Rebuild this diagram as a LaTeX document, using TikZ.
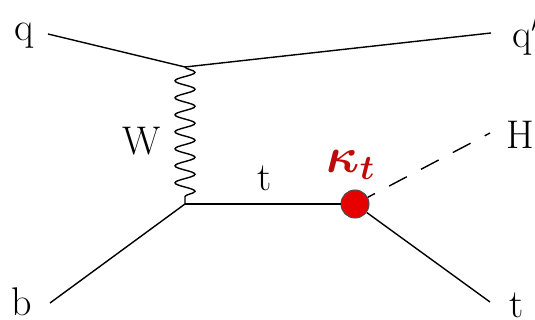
\documentclass[tikz,border=0pt]{standalone}
\usepackage{amsmath,bm}
\usetikzlibrary{decorations.pathmorphing}

\definecolor{vtxred}{RGB}{230,0,0}
\definecolor{kapred}{RGB}{190,10,10}

\tikzstyle{fermion}=[draw,line width=0.7pt]
\tikzstyle{boson}=[draw,line width=0.7pt,decorate,decoration={snake,amplitude=5pt,segment length=8.5pt}]
\tikzstyle{scalar}=[draw,line width=0.7pt,dash pattern=on 10pt off 8pt,dash phase=6pt]
\tikzstyle{blob}=[circle,draw=black!70,fill=vtxred,line width=0.5pt,minimum size=14pt,inner sep=0pt]
\tikzstyle{lab}=[font=\fontsize{20}{24}\selectfont,inner sep=0pt]

\begin{document}
\begin{tikzpicture}[x=0.5pt,y=-0.5pt]
\useasboundingbox (0,0) rectangle (535,320);
% external legs and vertices
\coordinate (q) at (48,34);
\coordinate (qp) at (491,33);
\coordinate (b) at (50,303);
\coordinate (h) at (490,133);
\coordinate (t) at (490,302);
\coordinate (v1) at (185,67);
\coordinate (v2) at (185,204);
\node[blob] (v3) at (355,204) {};
% labels
\node[lab] (lq) at (24,36) {q};
\node[lab,anchor=west] (lqp) at (512,36) {q$'$};
\node[lab] (lb) at (22,302) {b};
\node[lab] (lh) at (520,135) {H};
\node[lab] (lt) at (517,305) {t};
\node[lab] (lw) at (142,141) {W};
\node[lab] (ltop) at (265,178) {t};
\node[lab,font=\fontsize{24}{28}\selectfont,text=kapred] (lk) at (351,165) {$\boldsymbol{\kappa_t}$};
% propagators
\draw[fermion] (q) -- (v1);
\draw[fermion] (v1) -- (qp);
\draw[boson] (v1) -- (v2);
\draw[fermion] (b) -- (v2);
\draw[fermion] (v2) -- (v3);
\draw[scalar] (v3) -- (h);
\draw[fermion] (v3) -- (t);
\end{tikzpicture}
\end{document}
